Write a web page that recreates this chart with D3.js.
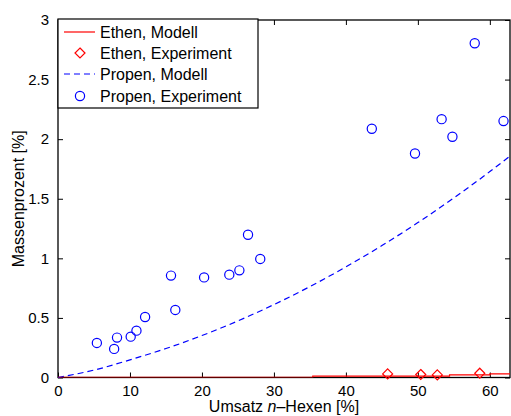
<!DOCTYPE html>
<html>
<head>
<meta charset="utf-8">
<script src="https://cdn.jsdelivr.net/npm/d3@7"></script>
<style>
  html, body { margin: 0; padding: 0; background: #fff; }
  svg text { font-family: "Liberation Sans", Arial, Helvetica, sans-serif; }
</style>
</head>
<body>
<svg id="chart" width="511" height="416"></svg>
<script>
// Umsatz n-Hexen [%] vs. Massenprozent [%]
const propenExpX = [5.4, 7.8, 8.2, 10.1, 10.9, 12.1, 15.7, 16.3, 20.3, 23.8, 25.2, 26.4, 28.1, 43.6, 49.6, 53.3, 54.8, 57.9, 61.9];
const propenExpY = [0.29, 0.24, 0.335, 0.343, 0.393, 0.508, 0.855, 0.567, 0.84, 0.863, 0.899, 1.198, 0.995, 2.087, 1.88, 2.168, 2.02, 2.805, 2.152];

const propenModelX = [0, 5, 10, 15, 20, 25, 30, 35, 40, 45, 50, 55, 60, 62.8];
const propenModelY = [0, 0.062, 0.148, 0.243, 0.352, 0.475, 0.612, 0.763, 0.928, 1.107, 1.30, 1.507, 1.728, 1.858];

const ethenExpX = [45.8, 50.4, 52.7, 58.6];
const ethenExpY = [0.03, 0.025, 0.022, 0.036];

const ethenModelX = [0, 35.4, 35.4, 54.4, 54.4, 60, 60, 62.8];
const ethenModelY = [0.002, 0.002, 0.012, 0.012, 0.022, 0.022, 0.031, 0.031];

const xTicks = [0, 10, 20, 30, 40, 50, 60];
const yTicks = [0, 0.5, 1, 1.5, 2, 2.5, 3];
const yTickLabels = ["0", "0.5", "1", "1.5", "2", "2.5", "3"];

const legendLabels = ["Ethen, Modell", "Ethen, Experiment", "Propen, Modell", "Propen, Experiment"];

const RED = "#ff0000", BLUE = "#0000ff";

const margin = { left: 58, right: 1, top: 20, bottom: 38.5 };
const W = 511, H = 416;
const svg = d3.select("#chart");

const x = d3.scaleLinear().domain([0, 62.8]).range([margin.left, W - margin.right]);
const y = d3.scaleLinear().domain([0, 3]).range([H - margin.bottom, margin.top]);

const x0 = x.range()[0], x1 = x.range()[1], y0 = y.range()[0], y1 = y.range()[1];

const tickFont = 15;
const labelFont = 16;

// Axes (bottom/left with labels, top/right mirrored ticks only)
const axBottom = d3.axisBottom(x).tickValues(xTicks).tickSizeInner(-5).tickSizeOuter(0).tickPadding(8).tickFormat(d3.format("d"));
const axTop = d3.axisTop(x).tickValues(xTicks).tickSizeInner(-5).tickSizeOuter(0).tickFormat("");
const axLeft = d3.axisLeft(y).tickValues(yTicks).tickSizeInner(-5).tickSizeOuter(0).tickPadding(9).tickFormat((d, i) => yTickLabels[i]);
const axRight = d3.axisRight(y).tickValues(yTicks).tickSizeInner(-5).tickSizeOuter(0).tickFormat("");

function styleAxis(g) {
  g.select(".domain").remove();
  g.selectAll(".tick line").attr("stroke", "#000").attr("stroke-width", 1);
  g.selectAll(".tick text").attr("fill", "#000").style("font-size", tickFont + "px");
}

svg.append("g").attr("transform", `translate(0,${y0})`).call(axBottom).call(styleAxis);
svg.append("g").attr("transform", `translate(0,${y1})`).call(axTop).call(styleAxis);
svg.append("g").attr("transform", `translate(${x0},0)`).call(axLeft).call(styleAxis);
svg.append("g").attr("transform", `translate(${x1},0)`).call(axRight).call(styleAxis);

// Plot frame
svg.append("rect")
  .attr("x", x0).attr("y", y1).attr("width", x1 - x0).attr("height", y0 - y1)
  .attr("fill", "none").attr("stroke", "#000").attr("stroke-width", 1.3);

// Clip for curves
svg.append("clipPath").attr("id", "plotclip").append("rect")
  .attr("x", x0).attr("y", y1 - 6).attr("width", x1 - x0 + 2).attr("height", y0 - y1 + 6);

const line = d3.line().x(d => x(d[0])).y(d => y(d[1]));

const plot = svg.append("g");

// Propen model (dashed blue)
plot.append("path")
  .datum(d3.zip(propenModelX, propenModelY))
  .attr("d", d3.line().x(d => x(d[0])).y(d => y(d[1])).curve(d3.curveMonotoneX))
  .attr("fill", "none").attr("stroke", BLUE).attr("stroke-width", 1.2)
  .attr("stroke-dasharray", "6,4");

// Ethen model (solid red)
plot.append("path")
  .datum(d3.zip(ethenModelX, ethenModelY))
  .attr("d", line)
  .attr("fill", "none").attr("stroke", RED).attr("stroke-width", 1.2)
  .attr("clip-path", "url(#plotclip)");

// Ethen experiment: diamonds
const diamond = (cx, cy, r) => `M${cx},${cy - r}L${cx + r},${cy}L${cx},${cy + r}L${cx - r},${cy}Z`;
plot.selectAll(".ethen")
  .data(d3.zip(ethenExpX, ethenExpY))
  .join("path")
  .attr("d", d => diamond(x(d[0]), y(d[1]), 5))
  .attr("fill", "none").attr("stroke", RED).attr("stroke-width", 1.2);

// Propen experiment: circles
plot.selectAll(".propen")
  .data(d3.zip(propenExpX, propenExpY))
  .join("circle")
  .attr("cx", d => x(d[0])).attr("cy", d => y(d[1])).attr("r", 4.6)
  .attr("fill", "none").attr("stroke", BLUE).attr("stroke-width", 1.2);

// Axis titles
svg.append("text")
  .attr("x", (x0 + x1) / 2).attr("y", 412)
  .attr("text-anchor", "middle").style("font-size", labelFont + "px")
  .call(t => {
    t.append("tspan").text("Umsatz ");
    t.append("tspan").attr("font-style", "italic").text("n");
    t.append("tspan").text("–Hexen [%]");
  });

svg.append("text")
  .attr("transform", `translate(24,${(y0 + y1) / 2}) rotate(-90)`)
  .attr("text-anchor", "middle").style("font-size", labelFont + "px")
  .text("Massenprozent [%]");

// Legend
const lg = svg.append("g").attr("transform", `translate(${x0},${y1 - 1})`);
lg.append("rect").attr("x", 0).attr("y", 0).attr("width", 200).attr("height", 89)
  .attr("fill", "#fff").attr("stroke", "#000").attr("stroke-width", 1.2);

const rowY = [13, 34, 55, 77];
legendLabels.forEach((lab, i) => {
  const ry = rowY[i];
  const g = lg.append("g");
  if (i === 0) {
    g.append("line").attr("x1", 6).attr("x2", 37).attr("y1", ry).attr("y2", ry)
      .attr("stroke", RED).attr("stroke-width", 1.2);
  } else if (i === 1) {
    g.append("path").attr("d", diamond(22, ry, 5)).attr("fill", "none").attr("stroke", RED).attr("stroke-width", 1.2);
  } else if (i === 2) {
    g.append("line").attr("x1", 6).attr("x2", 37).attr("y1", ry).attr("y2", ry)
      .attr("stroke", BLUE).attr("stroke-width", 1.2).attr("stroke-dasharray", "6,4");
  } else {
    g.append("circle").attr("cx", 22).attr("cy", ry).attr("r", 4.6)
      .attr("fill", "none").attr("stroke", BLUE).attr("stroke-width", 1.2);
  }
  g.append("text").attr("x", 42).attr("y", ry + 6).style("font-size", labelFont + "px").text(lab);
});
</script>
</body>
</html>
